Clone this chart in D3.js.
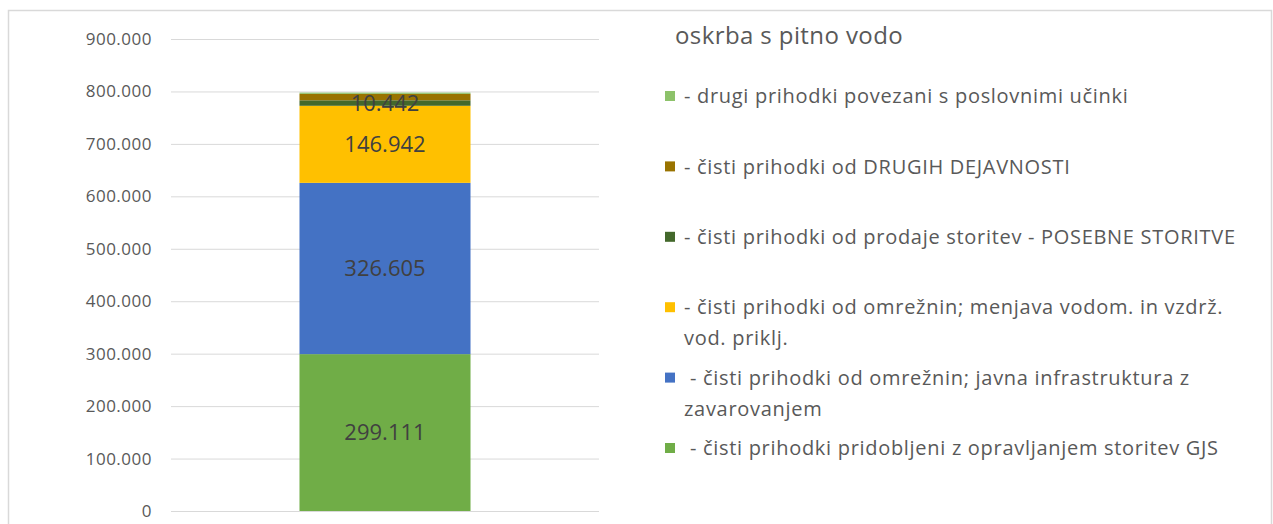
<!DOCTYPE html>
<html>
<head>
<meta charset="utf-8">
<script src="https://cdn.jsdelivr.net/npm/d3@7"></script>
<style>
	body { margin: 0; background: #fff; }
	svg text { font-family: 'Open Sans', 'Noto Sans', sans-serif; }
</style>
</head>
<body>
<svg id="chart" width="1273" height="524"></svg>
<script>
const category = 'oskrba s pitno vodo';

// stacked from bottom to top
const seriesNames = [
	' - čisti prihodki pridobljeni z opravljanjem storitev GJS',
	' - čisti prihodki od omrežnin; javna infrastruktura z\nzavarovanjem',
	'- čisti prihodki od omrežnin; menjava vodom. in vzdrž.\nvod. priklj.',
	'- čisti prihodki od prodaje storitev - POSEBNE STORITVE',
	'- čisti prihodki od DRUGIH DEJAVNOSTI',
	'- drugi prihodki povezani s poslovnimi učinki',
];
const seriesValues = [299111, 326605, 146942, 10442, 12300, 2400];
const seriesColors = ['#70AD47', '#4472C4', '#FFC000', '#43682B', '#997300', '#8DC26A'];
const showLabel = [true, true, true, true, false, false];
const yTicks = [0, 100000, 200000, 300000, 400000, 500000, 600000, 700000, 800000, 900000];

const svg = d3.select('#chart');
const fmt = (v) => d3.format(',')(v).replace(/,/g, '.');

// outer frame
svg.append('rect')
	.attr('x', 8.5).attr('y', 10.5)
	.attr('width', 1263).attr('height', 520)
	.attr('fill', 'none')
	.attr('stroke', '#d9d9d9')
	.attr('stroke-width', 1.5);

const y = d3.scaleLinear().domain([0, 900000]).range([511, 39]);
const x = d3.scaleBand().domain([category]).range([171, 599]).padding(0.429);

// gridlines + tick labels
const yAxis = d3.axisLeft(y)
	.tickValues(yTicks)
	.tickSize(-(599 - 171))
	.tickPadding(19)
	.tickFormat(fmt);

svg.append('g')
	.attr('transform', 'translate(171,0)')
	.call(yAxis)
	.call((g) => g.select('.domain').remove())
	.call((g) => g.selectAll('.tick line').attr('stroke', '#d9d9d9').attr('stroke-width', 1))
	.call((g) => g.selectAll('.tick text')
		.attr('fill', '#595959')
		.style('font-size', '17px')
		.style('letter-spacing', '0.5px')
		.style('font-family', "'Open Sans', sans-serif"));

// stack
const row = {};
seriesNames.forEach((n, i) => (row[i] = seriesValues[i]));
const stack = d3.stack().keys(seriesNames.map((_, i) => i))([row]);

svg.append('g')
	.selectAll('rect')
	.data(stack)
	.join('rect')
	.attr('x', x(category))
	.attr('width', x.bandwidth())
	.attr('y', (s) => y(s[0][1]))
	.attr('height', (s) => y(s[0][0]) - y(s[0][1]))
	.attr('fill', (s) => seriesColors[s.key]);

svg.append('g')
	.selectAll('text')
	.data(stack.filter((s) => showLabel[s.key]))
	.join('text')
	.attr('x', x(category) + x.bandwidth() / 2)
	.attr('y', (s) => y((s[0][0] + s[0][1]) / 2))
	.attr('dy', '0.36em')
	.attr('text-anchor', 'middle')
	.attr('fill', '#404040')
	.style('font-size', '22px')
	.text((s) => fmt(seriesValues[s.key]));

// legend title
svg.append('text')
	.attr('x', 675)
	.attr('y', 35)
	.attr('dy', '0.36em')
	.attr('fill', '#595959')
	.style('font-size', '24px')
	.style('letter-spacing', '0.4px')
	.text(category);

// legend, top item is the last series
const legendOrder = d3.range(seriesNames.length).reverse();
const legend = svg.append('g')
	.selectAll('g')
	.data(legendOrder)
	.join('g')
	.attr('transform', (d, i) => `translate(665,${96 + i * 70.4})`);

legend.append('rect')
	.attr('x', 0).attr('y', -5)
	.attr('width', 10).attr('height', 10)
	.attr('fill', (d) => seriesColors[d]);

legend.append('text')
	.attr('fill', '#595959')
	.style('font-size', '20px')
	.style('letter-spacing', '0.7px')
	.selectAll('tspan')
	.data((d) => seriesNames[d].split('\n').map((t, j) => ({ t, j })))
	.join('tspan')
	.attr('x', 19)
	.attr('y', (l) => l.j * 31)
	.attr('dy', '0.36em')
	.style('white-space', 'pre')
	.text((l) => l.t);
</script>
</body>
</html>
